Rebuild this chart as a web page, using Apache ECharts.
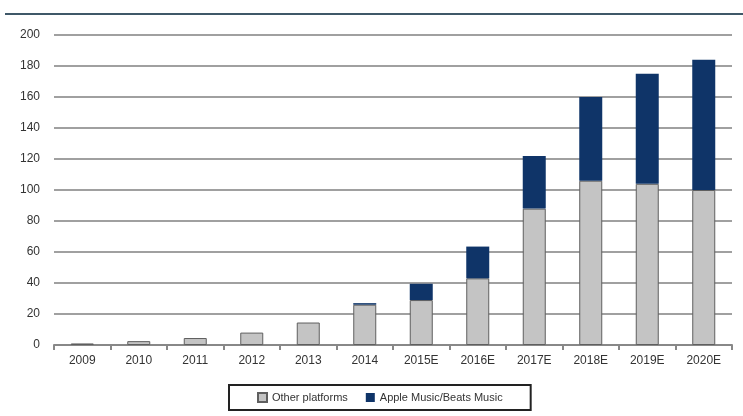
<!DOCTYPE html>
<html>
<head>
<meta charset="utf-8">
<style>
  html, body { margin: 0; padding: 0; background: #fff; }
  #container { width: 743px; height: 416px; }
</style>
<script src="https://cdn.jsdelivr.net/npm/echarts@6/dist/echarts.min.js"></script>
</head>
<body>
<div id="container"></div>
<script>
var years = ['2009', '2010', '2011', '2012', '2013', '2014', '2015E', '2016E', '2017E', '2018E', '2019E', '2020E'];
var otherPlatforms = [1, 2.5, 4.5, 8, 14.5, 26, 29, 43, 88, 106, 104, 100];
var appleMusic = [0, 0, 0, 0, 0, 1, 10.5, 20.5, 34, 54, 71, 84];
var yTicks = { min: 0, max: 200, interval: 20 };

var dom = document.getElementById('container');
var myChart = echarts.init(dom, null, { renderer: 'canvas' });

var font = "'Liberation Sans Narrow', 'Liberation Sans', Arial, sans-serif";

var option = {
    backgroundColor: '#ffffff',
    animation: false,
    graphic: [
        {
            type: 'line',
            shape: { x1: 5, y1: 14, x2: 743, y2: 14 },
            style: { stroke: '#3f5868', lineWidth: 2 }
        }
    ],
    legend: {
        bottom: 6,
        left: 229,
        itemWidth: 9,
        itemHeight: 9,
        itemGap: 18,
        padding: [7, 28, 7, 28],
        borderColor: '#222',
        borderWidth: 2,
        backgroundColor: '#fff',
        textStyle: { fontFamily: font, fontSize: 11, color: '#333' },
        data: [
            { name: 'Other platforms', icon: 'rect' },
            { name: 'Apple Music/Beats Music', icon: 'rect' }
        ]
    },
    grid: {
        left: 54,
        right: 11,
        top: 35,
        bottom: 71
    },
    xAxis: {
        type: 'category',
        data: years,
        axisLine: { lineStyle: { color: '#888', width: 2 } },
        axisTick: { show: true, length: 5, lineStyle: { color: '#888', width: 2 } },
        axisLabel: { fontFamily: font, fontSize: 12, color: '#333', margin: 10 }
    },
    yAxis: {
        type: 'value',
        min: yTicks.min,
        max: yTicks.max,
        interval: yTicks.interval,
        axisLine: { show: false },
        axisTick: { show: false },
        axisLabel: { fontFamily: font, fontSize: 12, color: '#333', margin: 14 },
        splitLine: { lineStyle: { color: '#a0a0a0', width: 2 } }
    },
    series: [
        {
            name: 'Other platforms',
            type: 'bar',
            stack: 'total',
            barWidth: 23,
            data: otherPlatforms,
            itemStyle: { color: '#c4c4c4', borderColor: '#5f5f5f', borderWidth: 1 }
        },
        {
            name: 'Apple Music/Beats Music',
            type: 'bar',
            stack: 'total',
            barWidth: 23,
            data: appleMusic,
            itemStyle: { color: '#0f3468', borderWidth: 0 }
        }
    ]
};

myChart.setOption(option);
window.addEventListener('resize', myChart.resize);
</script>
</body>
</html>
